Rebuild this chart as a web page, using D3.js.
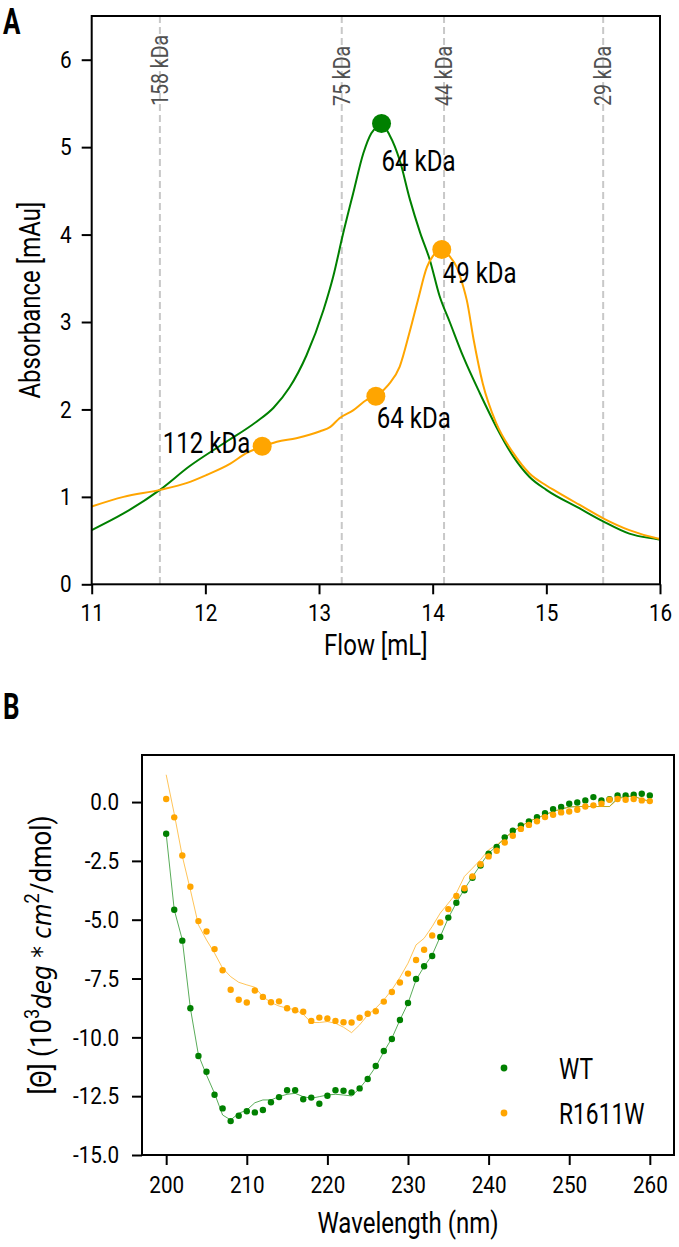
<!DOCTYPE html>
<html>
<head>
<meta charset="utf-8">
<script src="https://cdn.jsdelivr.net/npm/d3@7"></script>
<style>
  body { margin: 0; background: #fff; }
  svg { display: block; font-family: Roboto, "Open Sans", sans-serif; }
</style>
</head>
<body>
<svg id="chart" width="679" height="1247"></svg>
<script>
// ---- panel A: size exclusion (absorbance vs flow)
const flowTicks = [11, 12, 13, 14, 15, 16];
const absTicks = [0, 1, 2, 3, 4, 5, 6];

const wtFlow = [11.0, 11.28, 11.6, 11.86, 12.16, 12.45, 12.6, 12.74, 12.89, 13.04, 13.125, 13.21, 13.3, 13.39, 13.46, 13.52, 13.55, 13.62, 13.71, 13.8, 13.89, 13.975, 14.06, 14.15, 14.27, 14.415, 14.56, 14.71, 14.85, 15.0, 15.29, 15.5, 15.73, 15.98, 16.0];
const wtAbs = [0.62, 0.81, 1.08, 1.35, 1.61, 1.86, 2.02, 2.25, 2.62, 3.14, 3.52, 4.00, 4.47, 4.93, 5.16, 5.24, 5.26, 5.14, 4.85, 4.40, 4.02, 3.71, 3.30, 3.00, 2.60, 2.185, 1.80, 1.46, 1.23, 1.08, 0.87, 0.72, 0.58, 0.515, 0.51];

const mutFlow = [11.0, 11.28, 11.6, 11.84, 12.01, 12.22, 12.36, 12.5, 12.63, 12.8, 13.01, 13.1, 13.18, 13.3, 13.42, 13.5, 13.61, 13.71, 13.8, 13.87, 13.95, 14.0, 14.08, 14.15, 14.21, 14.27, 14.3, 14.36, 14.44, 14.56, 14.71, 14.85, 15.0, 15.09, 15.29, 15.5, 15.73, 15.98, 16.0];
const mutAbs = [0.89, 1.0, 1.08, 1.16, 1.25, 1.38, 1.50, 1.575, 1.63, 1.67, 1.75, 1.80, 1.90, 1.99, 2.11, 2.15, 2.28, 2.49, 2.90, 3.25, 3.63, 3.75, 3.83, 3.75, 3.63, 3.40, 3.25, 2.80, 2.30, 1.84, 1.50, 1.27, 1.13, 1.06, 0.91, 0.755, 0.62, 0.525, 0.52];

// standards (dashed lines)
const standardFlow = [11.6, 13.2, 14.1, 15.5];
const standardLabels = ["158 kDa", "75 kDa", "44 kDa", "29 kDa"];

// annotated peaks
const peakSeries = ["wt", "mut", "mut", "mut"];
const peakFlow = [13.55, 12.5, 13.5, 14.08];
const peakAbs = [5.27, 1.58, 2.15, 3.83];
const peakLabels = ["64 kDa", "112 kDa", "64 kDa", "49 kDa"];

// ---- panel B: circular dichroism
const wavelength = [200, 201, 202, 203, 204, 205, 206, 207, 208, 209, 210, 211, 212, 213, 214, 215, 216, 217, 218, 219, 220, 221, 222, 223, 224, 225, 226, 227, 228, 229, 230, 231, 232, 233, 234, 235, 236, 237, 238, 239, 240, 241, 242, 243, 244, 245, 246, 247, 248, 249, 250, 251, 252, 253, 254, 255, 256, 257, 258, 259, 260];
const wtCD = [-1.35, -4.58, -5.89, -8.76, -10.79, -11.46, -12.44, -13.02, -13.56, -13.33, -13.14, -13.19, -13.09, -12.76, -12.54, -12.25, -12.25, -12.63, -12.56, -12.82, -12.48, -12.25, -12.27, -12.34, -12.17, -11.77, -11.22, -10.58, -10.07, -9.26, -8.54, -7.52, -6.98, -6.54, -5.73, -4.91, -4.28, -3.75, -3.22, -2.70, -2.19, -1.91, -1.50, -1.22, -0.99, -0.82, -0.64, -0.47, -0.30, -0.21, -0.07, -0.02, 0.07, 0.21, 0.07, 0.12, 0.28, 0.28, 0.31, 0.35, 0.28];
const mutCD = [0.13, -0.65, -2.27, -3.60, -5.06, -5.50, -6.25, -7.15, -7.98, -8.40, -8.52, -8.01, -8.28, -8.51, -8.47, -8.76, -8.85, -8.91, -9.30, -9.16, -9.20, -9.30, -9.36, -9.37, -9.17, -9.00, -8.89, -8.48, -8.07, -7.67, -7.29, -6.71, -6.28, -5.67, -5.12, -4.55, -3.99, -3.66, -3.16, -2.64, -2.31, -2.07, -1.72, -1.43, -1.14, -0.97, -0.82, -0.64, -0.54, -0.44, -0.40, -0.33, -0.19, -0.14, -0.07, 0.10, 0.13, 0.10, 0.13, 0.07, 0.04];
const wtFit = [-1.35, -4.58, -5.85, -8.76, -10.75, -11.60, -12.38, -13.30, -13.51, -13.23, -13.09, -12.78, -12.66, -12.66, -12.52, -12.42, -12.38, -12.52, -12.59, -12.52, -12.45, -12.42, -12.45, -12.49, -12.17, -11.74, -11.25, -10.61, -10.04, -9.26, -8.55, -7.56, -6.99, -6.50, -5.72, -4.93, -4.28, -3.70, -3.17, -2.67, -2.17, -1.88, -1.53, -1.25, -1.04, -0.82, -0.68, -0.54, -0.40, -0.30, -0.21, -0.19, -0.19, -0.19, -0.19, -0.19, 0.17, 0.24, 0.24, 0.13, 0.03];
const mutFit = [1.16, -0.50, -2.30, -3.73, -5.22, -5.86, -6.42, -7.06, -7.42, -7.66, -7.77, -7.87, -8.27, -8.52, -8.67, -8.76, -8.83, -9.02, -9.37, -9.37, -9.33, -9.40, -9.57, -9.80, -9.47, -9.05, -8.76, -8.41, -7.98, -7.45, -6.85, -6.07, -5.79, -5.29, -4.72, -4.30, -3.87, -3.16, -2.81, -2.45, -2.03, -1.82, -1.53, -1.25, -1.04, -0.82, -0.68, -0.54, -0.40, -0.30, -0.21, -0.19, -0.19, -0.19, -0.19, -0.19, 0.10, 0.24, 0.27, 0.10, 0.03];
const waveTicks = [200, 210, 220, 230, 240, 250, 260];
const cdTicks = [0, -2.5, -5, -7.5, -10, -12.5, -15];
const legendLabels = ["WT", "R1611W"];

const GREEN = "#008000";
const ORANGE = "#ffa500";
const colorOf = { wt: GREEN, mut: ORANGE };

const svg = d3.select("#chart");
svg.append("rect").attr("width", 679).attr("height", 1247).attr("fill", "#fff");

// narrow the default font to look like the condensed face of the figure
function squeeze(sel, k) {
  sel.each(function () {
    const n = this.getComputedTextLength();
    d3.select(this).attr("textLength", n * k).attr("lengthAdjust", "spacingAndGlyphs");
  });
}

function styleAxis(g) {
  g.attr("font-family", "Roboto, sans-serif").attr("font-size", 24);
  g.select(".domain").remove();
  g.selectAll(".tick line").attr("stroke", "#000").attr("stroke-width", 2);
  g.selectAll(".tick text").attr("fill", "#000").call(squeeze, 0.86);
}

// ================= panel A =================
const areaA = { left: 91.7, right: 660, top: 16, bottom: 584.3 };
const xA = d3.scaleLinear().domain([11, 16]).range([areaA.left, areaA.right]);
const yA = d3.scaleLinear().domain([0, 6.5]).range([areaA.bottom, areaA.top]);

const gA = svg.append("g");

// dashed size standards
gA.selectAll("line.std")
  .data(standardFlow)
  .join("line")
  .attr("class", "std")
  .attr("x1", d => xA(d)).attr("x2", d => xA(d))
  .attr("y1", areaA.top).attr("y2", areaA.bottom)
  .attr("stroke", "#c8c8c8")
  .attr("stroke-width", 2)
  .attr("stroke-dasharray", "7,4");

gA.selectAll("text.std")
  .data(standardFlow)
  .join("text")
  .attr("class", "std")
  .attr("transform", d => `translate(${xA(d)},${yA(5.47)}) rotate(-90)`)
  .attr("dy", "0.36em")
  .attr("font-size", 23)
  .attr("fill", "#505050")
  .text((d, i) => standardLabels[i])
  .call(squeeze, 0.85);

const lineA = d3.line().x(d => xA(d[0])).y(d => yA(d[1])).curve(d3.curveMonotoneX);

gA.append("path")
  .datum(d3.zip(wtFlow, wtAbs))
  .attr("d", lineA)
  .attr("fill", "none")
  .attr("stroke", GREEN)
  .attr("stroke-width", 2);

gA.append("path")
  .datum(d3.zip(mutFlow, mutAbs))
  .attr("d", lineA)
  .attr("fill", "none")
  .attr("stroke", ORANGE)
  .attr("stroke-width", 2);

const peaks = peakFlow.map((f, i) => ({ flow: f, abs: peakAbs[i], label: peakLabels[i], series: peakSeries[i] }));
// label placement relative to the dot (px): dx, dy, anchor
const peakLabelPlace = [[0, 47, "start"], [-12, 7, "end"], [1, 32, "start"], [1, 34, "start"]];

gA.selectAll("circle.peak")
  .data(peaks)
  .join("circle")
  .attr("class", "peak")
  .attr("cx", d => xA(d.flow))
  .attr("cy", d => yA(d.abs))
  .attr("r", 9.5)
  .attr("fill", d => colorOf[d.series]);

gA.selectAll("text.peak")
  .data(peaks)
  .join("text")
  .attr("class", "peak")
  .attr("x", (d, i) => xA(d.flow) + peakLabelPlace[i][0])
  .attr("y", (d, i) => yA(d.abs) + peakLabelPlace[i][1])
  .attr("text-anchor", (d, i) => peakLabelPlace[i][2])
  .attr("font-size", 30)
  .attr("fill", "#000")
  .text(d => d.label)
  .call(squeeze, 0.8);

// frame + axes
gA.append("rect")
  .attr("x", areaA.left).attr("y", areaA.top)
  .attr("width", areaA.right - areaA.left).attr("height", areaA.bottom - areaA.top)
  .attr("fill", "none").attr("stroke", "#000").attr("stroke-width", 2);

gA.append("g")
  .attr("transform", `translate(0,${areaA.bottom})`)
  .call(d3.axisBottom(xA).tickValues(flowTicks).tickSize(10).tickPadding(10).tickFormat(d3.format("d")))
  .call(styleAxis);

gA.append("g")
  .attr("transform", `translate(${areaA.left},0)`)
  .call(d3.axisLeft(yA).tickValues(absTicks).tickSize(10).tickPadding(10).tickFormat(d3.format("d")))
  .call(styleAxis);

gA.append("text")
  .attr("x", (areaA.left + areaA.right) / 2)
  .attr("y", 655)
  .attr("text-anchor", "middle")
  .attr("font-size", 30)
  .text("Flow [mL]")
  .call(squeeze, 0.8);

gA.append("text")
  .attr("transform", `translate(40,${(areaA.top + areaA.bottom) / 2}) rotate(-90)`)
  .attr("text-anchor", "middle")
  .attr("font-size", 30)
  .text("Absorbance [mAu]")
  .call(squeeze, 0.8);

svg.append("text")
  .attr("x", 3).attr("y", 34)
  .attr("font-size", 36)
  .attr("font-weight", "bold")
  .text("A")
  .call(squeeze, 0.72);

// ================= panel B =================
const areaB = { left: 142, right: 674, top: 755, bottom: 1155 };
const xB = d3.scaleLinear().domain([197, 263]).range([areaB.left, areaB.right]);
const yB = d3.scaleLinear().domain([-15, 2]).range([areaB.bottom, areaB.top]);

const gB = svg.append("g");

const lineB = d3.line().x(d => xB(d[0])).y(d => yB(d[1]));

const cdSeries = [
  { key: "wt", pts: wtCD, fit: wtFit },
  { key: "mut", pts: mutCD, fit: mutFit },
];

cdSeries.forEach(s => {
  gB.append("path")
    .datum(d3.zip(wavelength, s.fit))
    .attr("d", lineB)
    .attr("fill", "none")
    .attr("stroke", colorOf[s.key])
    .attr("stroke-opacity", 0.65)
    .attr("stroke-width", 1);
});

cdSeries.forEach(s => {
  gB.append("g")
    .selectAll("circle")
    .data(d3.zip(wavelength, s.pts))
    .join("circle")
    .attr("cx", d => xB(d[0]))
    .attr("cy", d => yB(d[1]))
    .attr("r", 3.2)
    .attr("fill", colorOf[s.key]);
});

gB.append("rect")
  .attr("x", areaB.left).attr("y", areaB.top)
  .attr("width", areaB.right - areaB.left).attr("height", areaB.bottom - areaB.top)
  .attr("fill", "none").attr("stroke", "#000").attr("stroke-width", 2);

gB.append("g")
  .attr("transform", `translate(0,${areaB.bottom})`)
  .call(d3.axisBottom(xB).tickValues(waveTicks).tickSize(10).tickPadding(11).tickFormat(d3.format("d")))
  .call(styleAxis);

gB.append("g")
  .attr("transform", `translate(${areaB.left},0)`)
  .call(d3.axisLeft(yB).tickValues(cdTicks).tickSize(10).tickPadding(13).tickFormat(d => d.toFixed(1)))
  .call(styleAxis);

// legend
const legend = gB.append("g").attr("transform", `translate(${areaB.right - 170},${areaB.bottom - 87})`);
legendLabels.forEach((lab, i) => {
  const row = legend.append("g").attr("transform", `translate(0,${i * 45})`);
  row.append("circle").attr("r", 3.4).attr("fill", colorOf[cdSeries[i].key]);
  row.append("text")
    .attr("x", 55)
    .attr("dy", "0.35em")
    .attr("font-size", 30)
    .text(lab)
    .call(squeeze, 0.76);
});

gB.append("text")
  .attr("x", (areaB.left + areaB.right) / 2)
  .attr("y", 1233)
  .attr("text-anchor", "middle")
  .attr("font-size", 30)
  .text("Wavelength (nm)")
  .call(squeeze, 0.8);

const yLabB = gB.append("text")
  .attr("transform", `translate(51,${(areaB.top + areaB.bottom) / 2}) rotate(-90)`)
  .attr("text-anchor", "middle")
  .attr("font-size", 30);
yLabB.append("tspan").text("[Θ] (10");
yLabB.append("tspan").attr("baseline-shift", "super").attr("font-size", 21).text("3");
yLabB.append("tspan").attr("font-family", "DejaVu Sans").attr("font-style", "italic").attr("font-size", 27).text("deg");
yLabB.append("tspan").attr("font-family", "DejaVu Sans").attr("font-size", 27).text(" * ");
yLabB.append("tspan").attr("font-family", "DejaVu Sans").attr("font-style", "italic").attr("font-size", 27).text("cm");
yLabB.append("tspan").attr("baseline-shift", "super").attr("font-size", 21).text("2");
yLabB.append("tspan").text("/dmol)");
yLabB.call(squeeze, 0.86);

svg.append("text")
  .attr("x", 3).attr("y", 719)
  .attr("font-size", 36)
  .attr("font-weight", "bold")
  .text("B")
  .call(squeeze, 0.72);
</script>
</body>
</html>
